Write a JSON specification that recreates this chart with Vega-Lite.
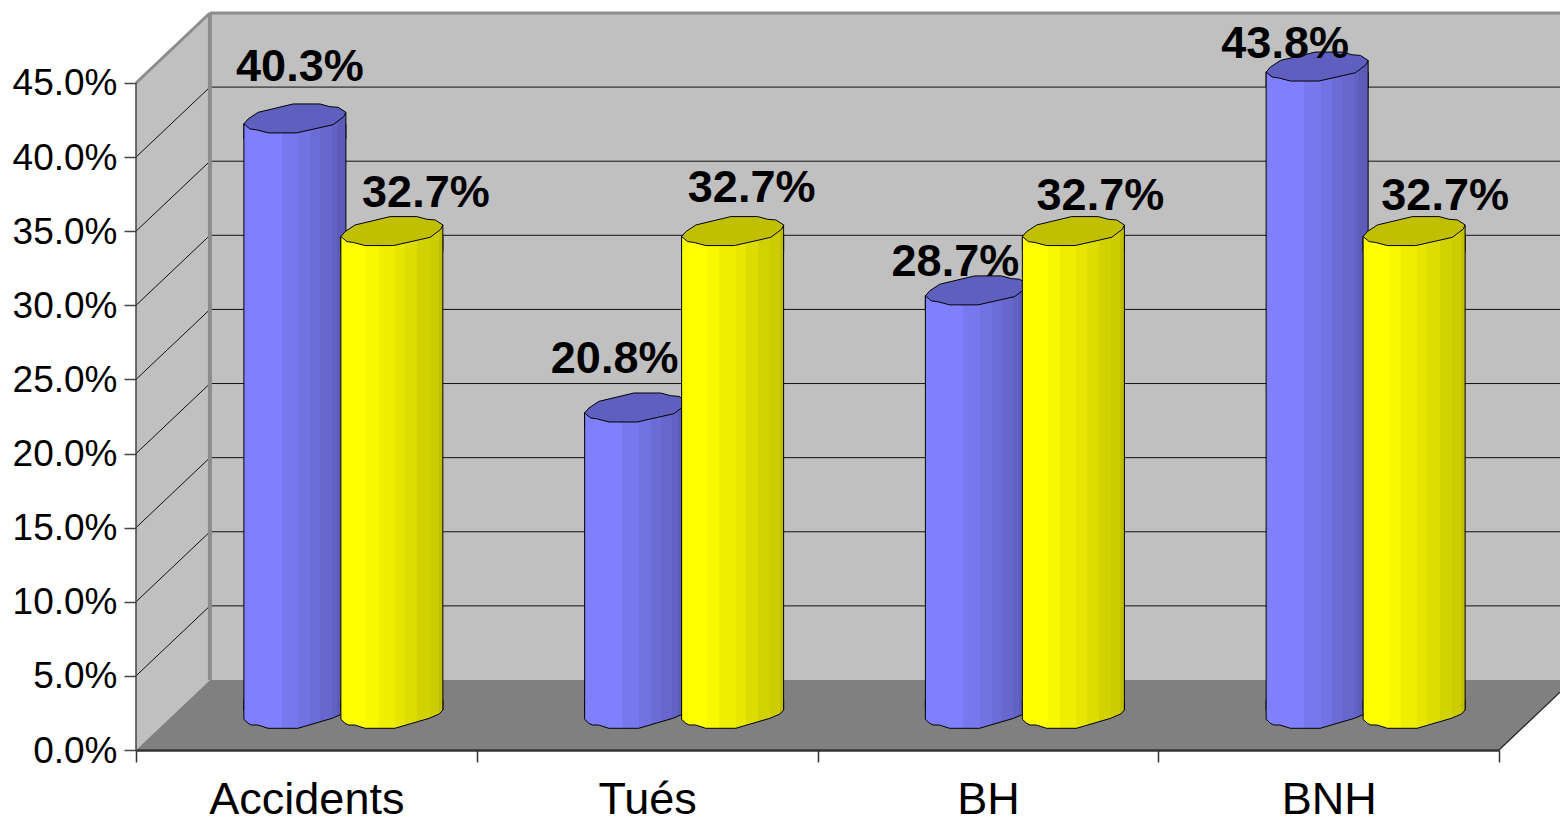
{"$schema":"https://vega.github.io/schema/vega-lite/v6.json","width":1424,"height":737,"autosize":{"type":"none"},"padding":{"left":136,"top":13,"right":0,"bottom":67},"background":"white","config":{"view":{"stroke":null},"font":"Liberation Sans"},
"datasets":{
"bars":[{"category":"Accidents","series":"Série 1","value":0.403},{"category":"Accidents","series":"Série 2","value":0.327},{"category":"Tués","series":"Série 1","value":0.208},{"category":"Tués","series":"Série 2","value":0.327},{"category":"BH","series":"Série 1","value":0.287},{"category":"BH","series":"Série 2","value":0.327},{"category":"BNH","series":"Série 1","value":0.438},{"category":"BNH","series":"Série 2","value":0.327}],
"grid":[{"v":0.05},{"v":0.1},{"v":0.15},{"v":0.2},{"v":0.25},{"v":0.3},{"v":0.35},{"v":0.4}],
"side":[{"p":0,"lo":0,"hi":0.45},{"p":0.217,"lo":0.0472,"hi":0.4972}],
"back":[{"p":0.217,"lo":0.0472,"hi":0.4972},{"p":4.179,"lo":0.0472,"hi":0.4972}],
"floor":[{"p":0,"lo":0,"hi":0},{"p":0.217,"lo":0,"hi":0.0472},{"p":4,"lo":0,"hi":0.0472},{"p":4.179,"lo":0.039,"hi":0.0472}]
},
"resolve":{"scale":{"x":"independent"},"axis":{"x":"independent"}},
"layer":[
{"layer":[
{"data":{"name":"back"},"mark":{"type":"area","fill":"#C0C0C0","line":false},"encoding":{"x":{"field":"p","type":"quantitative","axis":null,"scale":{"domain":[0,4.179],"nice":false,"zero":false}},"y":{"field":"lo","type":"quantitative","scale":{"domain":[0,0.4972],"nice":false,"zero":false},"axis":{"values":[0,0.05,0.1,0.15,0.2,0.25,0.3,0.35,0.4,0.45],"format":".1%","title":null,"domain":false,"grid":false,"tickColor":"#444444","tickSize":12,"tickWidth":1.5,"labelFontSize":37,"labelColor":"#000000","labelFont":"Liberation Sans","labelPadding":7,"labelOffset":1,"labelFlush":false,"labelOverlap":false,"zindex":1}},"y2":{"field":"hi"}}},
{"data":{"name":"side"},"mark":{"type":"area","fill":"#C0C0C0","line":false},"encoding":{"x":{"field":"p","type":"quantitative","axis":null,"scale":{"domain":[0,4.179],"nice":false,"zero":false}},"y":{"field":"lo","type":"quantitative","axis":{"title":null},"scale":{"domain":[0,0.4972],"nice":false,"zero":false}},"y2":{"field":"hi"}}},
{"data":{"name":"grid"},"mark":{"type":"rule","color":"#111111","strokeWidth":1,"yOffset":-70},"encoding":{"x":{"datum":0.217,"type":"quantitative","axis":null,"scale":{"domain":[0,4.179],"nice":false,"zero":false}},"x2":{"datum":4.179},"y":{"field":"v","type":"quantitative","axis":{"title":null},"scale":{"domain":[0,0.4972],"nice":false,"zero":false}}}},
{"data":{"name":"grid"},"mark":{"type":"rule","color":"#111111","strokeWidth":1,"y2Offset":-70},"encoding":{"x":{"datum":0,"type":"quantitative","axis":null,"scale":{"domain":[0,4.179],"nice":false,"zero":false}},"x2":{"datum":0.217},"y":{"field":"v","type":"quantitative","axis":{"title":null},"scale":{"domain":[0,0.4972],"nice":false,"zero":false}},"y2":{"field":"v"}}},
{"data":{"name":"floor"},"mark":{"type":"area","fill":"#808080","line":false},"encoding":{"x":{"field":"p","type":"quantitative","axis":null,"scale":{"domain":[0,4.179],"nice":false,"zero":false}},"y":{"field":"lo","type":"quantitative","axis":{"title":null},"scale":{"domain":[0,0.4972],"nice":false,"zero":false}},"y2":{"field":"hi"}}},
{"data":{"values":[{"v":0.45}]},"mark":{"type":"rule","color":"#8C8C8C","strokeWidth":3,"yOffset":-70},"encoding":{"x":{"datum":0.217,"type":"quantitative","axis":null,"scale":{"domain":[0,4.179],"nice":false,"zero":false}},"x2":{"datum":4.179},"y":{"field":"v","type":"quantitative","axis":{"title":null},"scale":{"domain":[0,0.4972],"nice":false,"zero":false}}}},
{"data":{"values":[{"v":0.45}]},"mark":{"type":"rule","color":"#8C8C8C","strokeWidth":3,"y2Offset":-70},"encoding":{"x":{"datum":0,"type":"quantitative","axis":null,"scale":{"domain":[0,4.179],"nice":false,"zero":false}},"x2":{"datum":0.217},"y":{"field":"v","type":"quantitative","axis":{"title":null},"scale":{"domain":[0,0.4972],"nice":false,"zero":false}},"y2":{"field":"v"}}},
{"data":{"values":[{"lo":0.0472,"hi":0.4972}]},"mark":{"type":"rule","color":"#8C8C8C","strokeWidth":4},"encoding":{"x":{"datum":0.217,"type":"quantitative","axis":null,"scale":{"domain":[0,4.179],"nice":false,"zero":false}},"y":{"field":"lo","type":"quantitative","axis":{"title":null},"scale":{"domain":[0,0.4972],"nice":false,"zero":false}},"y2":{"field":"hi"}}},
{"data":{"values":[{"lo":0,"hi":0.45}]},"mark":{"type":"rule","color":"#444444","strokeWidth":1.5},"encoding":{"x":{"datum":0,"type":"quantitative","axis":null,"scale":{"domain":[0,4.179],"nice":false,"zero":false}},"y":{"field":"lo","type":"quantitative","axis":{"title":null},"scale":{"domain":[0,0.4972],"nice":false,"zero":false}},"y2":{"field":"hi"}}},
{"data":{"values":[{"lo":0,"hi":0.039}]},"mark":{"type":"rule","color":"#222222","strokeWidth":1.2},"encoding":{"x":{"datum":4,"type":"quantitative","axis":null,"scale":{"domain":[0,4.179],"nice":false,"zero":false}},"x2":{"datum":4.179},"y":{"field":"lo","type":"quantitative","axis":{"title":null},"scale":{"domain":[0,0.4972],"nice":false,"zero":false}},"y2":{"field":"hi"}}}
]},
{"data":{"name":"bars"},
"encoding":{
"x":{"field":"category","type":"nominal","sort":["Accidents","Tués","BH","BNH"],"scale":{"type":"band","range":[0,1363],"paddingInner":0,"paddingOuter":0},"axis":{"title":null,"labelAngle":0,"labelLimit":400,"domainColor":"#333333","domainWidth":2.5,"tickColor":"#333333","tickWidth":1.5,"tickSize":12,"tickBand":"extent","labelFontSize":45,"labelColor":"#000000","labelFont":"Liberation Sans","labelPadding":15,"zindex":1}},
"xOffset":{"field":"series","type":"nominal","scale":{"type":"band","range":[37,377.75],"paddingInner":0,"paddingOuter":0.7565}}
},
"layer":[
{"transform":[{"filter":"datum.series==='Série 1'"}],"layer":[
{"mark":{"type":"bar","width":102,"yOffset":-29,"y2Offset":-40,"stroke":"#000000","strokeWidth":1,"fill":{"gradient":"linear","x1":0,"y1":0,"x2":1,"y2":0,"stops":[{"offset":0,"color":"#8080FF"},{"offset":0.37,"color":"#8080FF"},{"offset":0.37,"color":"#7878EE"},{"offset":0.535,"color":"#7878EE"},{"offset":0.535,"color":"#7272E2"},{"offset":0.65,"color":"#7272E2"},{"offset":0.65,"color":"#6C6CD6"},{"offset":0.75,"color":"#6C6CD6"},{"offset":0.75,"color":"#6666CC"},{"offset":0.86,"color":"#6666CC"},{"offset":0.86,"color":"#6262C4"},{"offset":0.915,"color":"#6262C4"},{"offset":0.915,"color":"#5C5CB8"},{"offset":1,"color":"#5C5CB8"}]}},"encoding":{"y":{"field":"value","type":"quantitative","axis":{"title":null},"scale":{"domain":[0,0.4972],"nice":false,"zero":false}},"y2":{"datum":0}}},
{"mark":{"type":"point","shape":"M-1 -.3L-1 .084L-.916 .163L-.85 .196L-.73 .196L-.524 .261L.059 .261L.73 .065L.93 -.02L1 -.098L1 -.3","size":10404,"filled":true,"opacity":1,"yOffset":-35,"stroke":"#000000","strokeWidth":1,"fill":{"gradient":"linear","x1":0,"y1":0,"x2":1,"y2":0,"stops":[{"offset":0,"color":"#8080FF"},{"offset":0.37,"color":"#8080FF"},{"offset":0.37,"color":"#7878EE"},{"offset":0.535,"color":"#7878EE"},{"offset":0.535,"color":"#7272E2"},{"offset":0.65,"color":"#7272E2"},{"offset":0.65,"color":"#6C6CD6"},{"offset":0.75,"color":"#6C6CD6"},{"offset":0.75,"color":"#6666CC"},{"offset":0.86,"color":"#6666CC"},{"offset":0.86,"color":"#6262C4"},{"offset":0.915,"color":"#6262C4"},{"offset":0.915,"color":"#5C5CB8"},{"offset":1,"color":"#5C5CB8"}]}},"encoding":{"y":{"datum":0,"type":"quantitative","axis":{"title":null},"scale":{"domain":[0,0.4972],"nice":false,"zero":false}}}},
{"mark":{"type":"point","shape":"M-1 .4L-1 .104L1 -.124L1 .4","size":10404,"filled":true,"opacity":1,"yOffset":-34,"stroke":"#000000","strokeWidth":1,"fill":{"gradient":"linear","x1":0,"y1":0,"x2":1,"y2":0,"stops":[{"offset":0,"color":"#8080FF"},{"offset":0.37,"color":"#8080FF"},{"offset":0.37,"color":"#7878EE"},{"offset":0.535,"color":"#7878EE"},{"offset":0.535,"color":"#7272E2"},{"offset":0.65,"color":"#7272E2"},{"offset":0.65,"color":"#6C6CD6"},{"offset":0.75,"color":"#6C6CD6"},{"offset":0.75,"color":"#6666CC"},{"offset":0.86,"color":"#6666CC"},{"offset":0.86,"color":"#6262C4"},{"offset":0.915,"color":"#6262C4"},{"offset":0.915,"color":"#5C5CB8"},{"offset":1,"color":"#5C5CB8"}]}},"encoding":{"y":{"field":"value","type":"quantitative","axis":{"title":null},"scale":{"domain":[0,0.4972],"nice":false,"zero":false}}}},
{"mark":{"type":"point","shape":"M-1 .104L-.916 .006L-.72 -.124L-.033 -.288L.49 -.288L.686 -.235L.849 -.222L1 -.124L.96 -.04L.751 .118L.033 .28L-.524 .28L-.751 .22L-.882 .202Z","size":10404,"filled":true,"opacity":1,"yOffset":-34,"stroke":"#000000","strokeWidth":1,"fill":"#5F5FBF"},"encoding":{"y":{"field":"value","type":"quantitative","axis":{"title":null},"scale":{"domain":[0,0.4972],"nice":false,"zero":false}}}}
]},
{"transform":[{"filter":"datum.series==='Série 2'"}],"layer":[
{"mark":{"type":"bar","width":102,"yOffset":-29,"y2Offset":-40,"stroke":"#000000","strokeWidth":1,"fill":{"gradient":"linear","x1":0,"y1":0,"x2":1,"y2":0,"stops":[{"offset":0,"color":"#FFFF00"},{"offset":0.25,"color":"#FFFF00"},{"offset":0.25,"color":"#F8F800"},{"offset":0.37,"color":"#F8F800"},{"offset":0.37,"color":"#EEEE00"},{"offset":0.53,"color":"#EEEE00"},{"offset":0.53,"color":"#E6E600"},{"offset":0.63,"color":"#E6E600"},{"offset":0.63,"color":"#DCDC00"},{"offset":0.75,"color":"#DCDC00"},{"offset":0.75,"color":"#D2D200"},{"offset":0.87,"color":"#D2D200"},{"offset":0.87,"color":"#CCCC00"},{"offset":0.96,"color":"#CCCC00"},{"offset":0.96,"color":"#C0C000"},{"offset":1,"color":"#C0C000"}]}},"encoding":{"y":{"field":"value","type":"quantitative","axis":{"title":null},"scale":{"domain":[0,0.4972],"nice":false,"zero":false}},"y2":{"datum":0}}},
{"mark":{"type":"point","shape":"M-1 -.3L-1 .084L-.916 .163L-.85 .196L-.73 .196L-.524 .261L.059 .261L.73 .065L.93 -.02L1 -.098L1 -.3","size":10404,"filled":true,"opacity":1,"yOffset":-35,"stroke":"#000000","strokeWidth":1,"fill":{"gradient":"linear","x1":0,"y1":0,"x2":1,"y2":0,"stops":[{"offset":0,"color":"#FFFF00"},{"offset":0.25,"color":"#FFFF00"},{"offset":0.25,"color":"#F8F800"},{"offset":0.37,"color":"#F8F800"},{"offset":0.37,"color":"#EEEE00"},{"offset":0.53,"color":"#EEEE00"},{"offset":0.53,"color":"#E6E600"},{"offset":0.63,"color":"#E6E600"},{"offset":0.63,"color":"#DCDC00"},{"offset":0.75,"color":"#DCDC00"},{"offset":0.75,"color":"#D2D200"},{"offset":0.87,"color":"#D2D200"},{"offset":0.87,"color":"#CCCC00"},{"offset":0.96,"color":"#CCCC00"},{"offset":0.96,"color":"#C0C000"},{"offset":1,"color":"#C0C000"}]}},"encoding":{"y":{"datum":0,"type":"quantitative","axis":{"title":null},"scale":{"domain":[0,0.4972],"nice":false,"zero":false}}}},
{"mark":{"type":"point","shape":"M-1 .4L-1 .104L1 -.124L1 .4","size":10404,"filled":true,"opacity":1,"yOffset":-34,"stroke":"#000000","strokeWidth":1,"fill":{"gradient":"linear","x1":0,"y1":0,"x2":1,"y2":0,"stops":[{"offset":0,"color":"#FFFF00"},{"offset":0.25,"color":"#FFFF00"},{"offset":0.25,"color":"#F8F800"},{"offset":0.37,"color":"#F8F800"},{"offset":0.37,"color":"#EEEE00"},{"offset":0.53,"color":"#EEEE00"},{"offset":0.53,"color":"#E6E600"},{"offset":0.63,"color":"#E6E600"},{"offset":0.63,"color":"#DCDC00"},{"offset":0.75,"color":"#DCDC00"},{"offset":0.75,"color":"#D2D200"},{"offset":0.87,"color":"#D2D200"},{"offset":0.87,"color":"#CCCC00"},{"offset":0.96,"color":"#CCCC00"},{"offset":0.96,"color":"#C0C000"},{"offset":1,"color":"#C0C000"}]}},"encoding":{"y":{"field":"value","type":"quantitative","axis":{"title":null},"scale":{"domain":[0,0.4972],"nice":false,"zero":false}}}},
{"mark":{"type":"point","shape":"M-1 .104L-.916 .006L-.72 -.124L-.033 -.288L.49 -.288L.686 -.235L.849 -.222L1 -.124L.96 -.04L.751 .118L.033 .28L-.524 .28L-.751 .22L-.882 .202Z","size":10404,"filled":true,"opacity":1,"yOffset":-34,"stroke":"#000000","strokeWidth":1,"fill":"#C0C000"},"encoding":{"y":{"field":"value","type":"quantitative","axis":{"title":null},"scale":{"domain":[0,0.4972],"nice":false,"zero":false}}}}
]},
{"transform":[{"filter":"datum.series==='Série 1' && datum.category==='Accidents'"}],"mark":{"type":"text","dx":5,"dy":-86,"fontSize":45,"fontWeight":"bold","font":"Liberation Sans","color":"#000000"},"encoding":{"y":{"field":"value","type":"quantitative","axis":{"title":null},"scale":{"domain":[0,0.4972],"nice":false,"zero":false}},"text":{"field":"value","type":"quantitative","format":".1%"}}},
{"transform":[{"filter":"datum.series==='Série 1' && datum.category==='Tués'"}],"mark":{"type":"text","dx":-21,"dy":-83,"fontSize":45,"fontWeight":"bold","font":"Liberation Sans","color":"#000000"},"encoding":{"y":{"field":"value","type":"quantitative","axis":{"title":null},"scale":{"domain":[0,0.4972],"nice":false,"zero":false}},"text":{"field":"value","type":"quantitative","format":".1%"}}},
{"transform":[{"filter":"datum.series==='Série 1' && datum.category==='BH'"}],"mark":{"type":"text","dx":-21,"dy":-63,"fontSize":45,"fontWeight":"bold","font":"Liberation Sans","color":"#000000"},"encoding":{"y":{"field":"value","type":"quantitative","axis":{"title":null},"scale":{"domain":[0,0.4972],"nice":false,"zero":false}},"text":{"field":"value","type":"quantitative","format":".1%"}}},
{"transform":[{"filter":"datum.series==='Série 1' && datum.category==='BNH'"}],"mark":{"type":"text","dx":-32,"dy":-57,"fontSize":45,"fontWeight":"bold","font":"Liberation Sans","color":"#000000"},"encoding":{"y":{"field":"value","type":"quantitative","axis":{"title":null},"scale":{"domain":[0,0.4972],"nice":false,"zero":false}},"text":{"field":"value","type":"quantitative","format":".1%"}}},
{"transform":[{"filter":"datum.series==='Série 2' && datum.category==='Accidents'"}],"mark":{"type":"text","dx":34,"dy":-72,"fontSize":45,"fontWeight":"bold","font":"Liberation Sans","color":"#000000"},"encoding":{"y":{"field":"value","type":"quantitative","axis":{"title":null},"scale":{"domain":[0,0.4972],"nice":false,"zero":false}},"text":{"field":"value","type":"quantitative","format":".1%"}}},
{"transform":[{"filter":"datum.series==='Série 2' && datum.category==='Tués'"}],"mark":{"type":"text","dx":19,"dy":-77,"fontSize":45,"fontWeight":"bold","font":"Liberation Sans","color":"#000000"},"encoding":{"y":{"field":"value","type":"quantitative","axis":{"title":null},"scale":{"domain":[0,0.4972],"nice":false,"zero":false}},"text":{"field":"value","type":"quantitative","format":".1%"}}},
{"transform":[{"filter":"datum.series==='Série 2' && datum.category==='BH'"}],"mark":{"type":"text","dx":27,"dy":-69,"fontSize":45,"fontWeight":"bold","font":"Liberation Sans","color":"#000000"},"encoding":{"y":{"field":"value","type":"quantitative","axis":{"title":null},"scale":{"domain":[0,0.4972],"nice":false,"zero":false}},"text":{"field":"value","type":"quantitative","format":".1%"}}},
{"transform":[{"filter":"datum.series==='Série 2' && datum.category==='BNH'"}],"mark":{"type":"text","dx":31,"dy":-69,"fontSize":45,"fontWeight":"bold","font":"Liberation Sans","color":"#000000"},"encoding":{"y":{"field":"value","type":"quantitative","axis":{"title":null},"scale":{"domain":[0,0.4972],"nice":false,"zero":false}},"text":{"field":"value","type":"quantitative","format":".1%"}}}
]}
]}
